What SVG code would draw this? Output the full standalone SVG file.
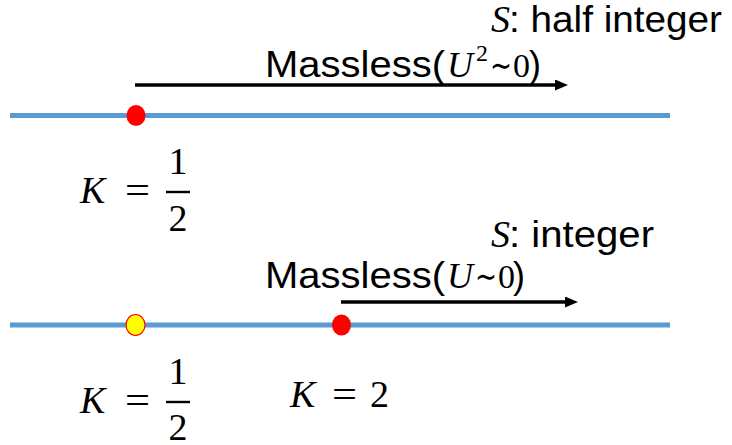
<svg xmlns="http://www.w3.org/2000/svg" width="732" height="445" viewBox="0 0 732 445">
<style>
.sans{font-family:"Liberation Sans",Arial,sans-serif;font-size:36px;fill:#000}
.math{font-family:"Liberation Serif","Times New Roman","DejaVu Serif",serif;font-size:38px;fill:#000}
.tilde{font-family:"DejaVu Sans",sans-serif;font-size:34px;fill:#000}
.it{font-style:italic}
.axis{stroke:#5B9BD5;stroke-width:5;fill:none}
.arrow{stroke:#000;stroke-width:3.5;fill:none;marker-end:url(#ah)}
.bar{stroke:#000;stroke-width:2.4}
.red{fill:#FF0000}
.yellow{fill:#FFFF00;stroke:#FF0000;stroke-width:1.2}
</style>
<defs>
<marker id="ah" markerUnits="userSpaceOnUse" markerWidth="13" markerHeight="11" viewBox="0 0 13 11" refX="2" refY="5.5" orient="auto">
<path d="M0,0 L13,5.5 L0,11 z" fill="#000"/>
</marker>
</defs>
<g id="connectors">
<line class="axis" x1="10" y1="115.5" x2="670" y2="115.5"/>
<line class="axis" x1="10" y1="325" x2="670" y2="325"/>
<line class="arrow" x1="135" y1="85" x2="557" y2="85"/>
<line class="arrow" x1="341" y1="302" x2="567" y2="302"/>
</g>
<g id="label-half-integer">
<text class="math it" x="491" y="32">S</text>
<text class="sans" x="509" y="32" textLength="213" lengthAdjust="spacingAndGlyphs">: half integer</text>
</g>
<g id="label-massless-1">
<text class="sans" x="265" y="77" textLength="180" lengthAdjust="spacingAndGlyphs">Massless(</text>
<text class="math it" x="447" y="77" style="font-size:36px">U</text>
<text class="math" x="476" y="61" style="font-size:24px">2</text>
<text class="tilde" x="490" y="77" textLength="22" lengthAdjust="spacingAndGlyphs">∼</text>
<text class="math" x="513" y="77" style="font-size:34px">0</text>
<text class="sans" x="529" y="77">)</text>
</g>
<g id="node-dot-1"><ellipse class="red" cx="136" cy="115.5" rx="9.5" ry="10.5"/></g>
<g id="label-k-half-1">
<text class="math it" x="80" y="203">K</text>
<text class="math" x="125" y="203" textLength="25" lengthAdjust="spacingAndGlyphs">=</text>
<line class="bar" x1="166" y1="192" x2="190" y2="192"/>
<text class="math" x="178" y="174" text-anchor="middle">1</text>
<text class="math" x="178" y="231" text-anchor="middle">2</text>
</g>
<g id="label-integer">
<text class="math it" x="491" y="247">S</text>
<text class="sans" x="509" y="247" textLength="145" lengthAdjust="spacingAndGlyphs">: integer</text>
</g>
<g id="label-massless-2">
<text class="sans" x="265" y="288" textLength="180" lengthAdjust="spacingAndGlyphs">Massless(</text>
<text class="math it" x="447" y="288" style="font-size:36px">U</text>
<text class="tilde" x="475" y="288" textLength="22" lengthAdjust="spacingAndGlyphs">∼</text>
<text class="math" x="498" y="288" style="font-size:34px">0</text>
<text class="sans" x="513" y="288">)</text>
</g>
<g id="node-dot-2"><ellipse class="yellow" cx="135.5" cy="325" rx="9.5" ry="10.5"/></g>
<g id="node-dot-3"><ellipse class="red" cx="341.5" cy="325" rx="9.5" ry="10.5"/></g>
<g id="label-k-half-2">
<text class="math it" x="80" y="413">K</text>
<text class="math" x="125" y="413" textLength="25" lengthAdjust="spacingAndGlyphs">=</text>
<line class="bar" x1="166" y1="402" x2="190" y2="402"/>
<text class="math" x="178" y="384" text-anchor="middle">1</text>
<text class="math" x="178" y="440" text-anchor="middle">2</text>
</g>
<g id="label-k-2">
<text class="math it" x="290" y="407">K</text>
<text class="math" x="332" y="407" textLength="25" lengthAdjust="spacingAndGlyphs">=</text>
<text class="math" x="370" y="407">2</text>
</g>
</svg>
